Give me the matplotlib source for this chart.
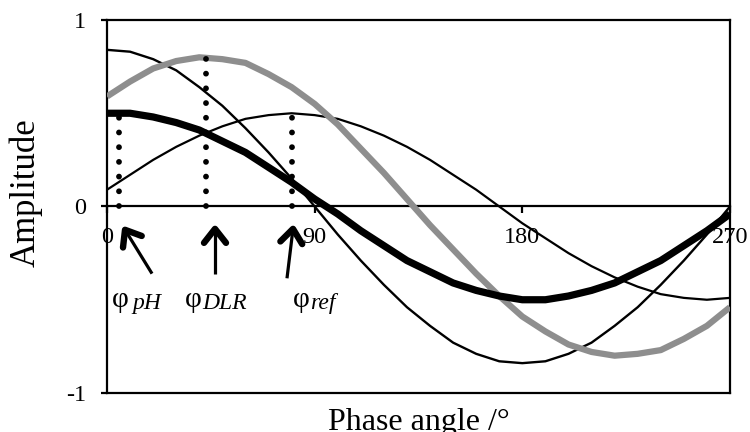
import matplotlib
matplotlib.use("Agg")
import matplotlib.pyplot as plt
import numpy as np

# phase angle samples (degrees)
phase = [0, 10, 20, 30, 40, 50, 60, 70, 80, 90, 100, 110, 120, 130,
         140, 150, 160, 170, 180, 190, 200, 210, 220, 230, 240, 250, 260, 270]

# values
thin_big = [0.84, 0.83, 0.79, 0.73, 0.64, 0.54, 0.42, 0.29, 0.15, 0.00,
            -0.15, -0.29, -0.42, -0.54, -0.64, -0.73, -0.79, -0.83, -0.84,
            -0.83, -0.79, -0.73, -0.64, -0.54, -0.42, -0.29, -0.15, 0.00]
thick_ph = [0.50, 0.50, 0.48, 0.45, 0.41, 0.35, 0.29, 0.21, 0.13, 0.04,
            -0.04, -0.13, -0.21, -0.29, -0.35, -0.41, -0.45, -0.48, -0.50,
            -0.50, -0.48, -0.45, -0.41, -0.35, -0.29, -0.21, -0.13, -0.04]
grey_dlr = [0.59, 0.67, 0.74, 0.78, 0.80, 0.79, 0.77, 0.71, 0.64, 0.55,
            0.44, 0.31, 0.18, 0.04, -0.10, -0.23, -0.36, -0.48, -0.59,
            -0.67, -0.74, -0.78, -0.80, -0.79, -0.77, -0.71, -0.64, -0.54]
thin_ref = [0.09, 0.17, 0.25, 0.32, 0.38, 0.43, 0.47, 0.49, 0.50, 0.49,
            0.47, 0.43, 0.38, 0.32, 0.25, 0.17, 0.09, 0.00, -0.09, -0.17,
            -0.25, -0.32, -0.38, -0.43, -0.47, -0.49, -0.50, -0.49]

# phase markers: position and height of dotted line
mark_phase = [5, 43, 80]
mark_height = [0.50, 0.80, 0.50]
mark_sub = ["pH", "DLR", "ref"]

xticks = [0, 90, 180, 270]
yticks = [-1, 0, 1]
ytick_labels = ["-1", "0", "1"]

SERIF = "Liberation Serif"
plt.rcParams["font.family"] = SERIF

fig = plt.figure(figsize=(7.5, 4.32), dpi=100)
ax = fig.add_axes([0.1427, 0.0903, 0.8306, 0.8634])

ax.plot(phase, thin_big, color="black", lw=1.7, zorder=3)
ax.plot(phase, thin_ref, color="black", lw=1.6, zorder=3)
ax.plot(phase, grey_dlr, color="#8e8e8e", lw=4.5, zorder=4,
        solid_capstyle="butt")
ax.plot(phase, thick_ph, color="black", lw=5.2, zorder=5,
        solid_capstyle="butt")

for x, h in zip(mark_phase, mark_height):
    ax.plot([x, x], [0, h], color="black", lw=4.2,
            linestyle=(0, (0.001, 2.52)), dash_capstyle="round", zorder=6)

ax.set_xlim(0, 270)
ax.set_ylim(-1, 1)

# zero axis with ticks, plus the closed frame
ax.spines["bottom"].set_position(("data", 0))
for s in ax.spines.values():
    s.set_linewidth(1.6)
ax.plot([0, 1], [0, 0], transform=ax.transAxes, color="black", lw=1.6,
        clip_on=False, zorder=7)

ax.set_xticks(xticks)
ax.set_xticklabels([str(v) for v in xticks])
ax.set_yticks(yticks)
ax.set_yticklabels(ytick_labels)
ax.tick_params(axis="x", direction="out", length=5, width=1.6,
               labelsize=17.5, pad=10)
ax.tick_params(axis="y", direction="out", length=4, width=1.6,
               labelsize=17.5, pad=11)

ax.set_ylabel("Amplitude", fontsize=25)
ax.yaxis.set_label_coords(-0.104, 0.536)
fig.text(0.558, 0.004, "Phase angle /°", fontsize=23, ha="center",
         va="baseline")

# arrows pointing at the phase markers (data units), open chevron heads
arrow_tail = [(19.5, -0.36), (46.8, -0.36), (78.0, -0.385)]
arrow_head = [(7.8, -0.125), (46.8, -0.12), (80.6, -0.12)]
HEAD_L, HEAD_W = 14, 11   # pixels
to_px = ax.transData
to_data = ax.transData.inverted()
for (tx, ty), (hx, hy) in zip(arrow_tail, arrow_head):
    ax.plot([tx, hx], [ty, hy], color="black", lw=2.3, clip_on=False,
            solid_capstyle="butt", zorder=6)
    tip = to_px.transform((hx, hy))
    tail = to_px.transform((tx, ty))
    d = (tip - tail) / np.hypot(*(tip - tail))
    n = np.array([-d[1], d[0]])
    pts = np.array([tip - HEAD_L * d + HEAD_W * n, tip,
                    tip - HEAD_L * d - HEAD_W * n])
    pts = to_data.transform(pts)
    ax.plot(pts[:, 0], pts[:, 1], color="black", lw=4.6, clip_on=False,
            solid_capstyle="round", solid_joinstyle="round", zorder=6)

# phi labels
label_x = [2.2, 33.7, 80.4]
sub_x = [10.8, 41.2, 88.0]
for lx, sx, sub in zip(label_x, sub_x, mark_sub):
    ax.text(lx, -0.54, "φ", fontsize=21, ha="left", va="baseline",
            clip_on=False)
    ax.text(sx, -0.549, sub, fontsize=17, style="italic", ha="left",
            va="baseline", clip_on=False)

fig.savefig("out.png", dpi=100)
